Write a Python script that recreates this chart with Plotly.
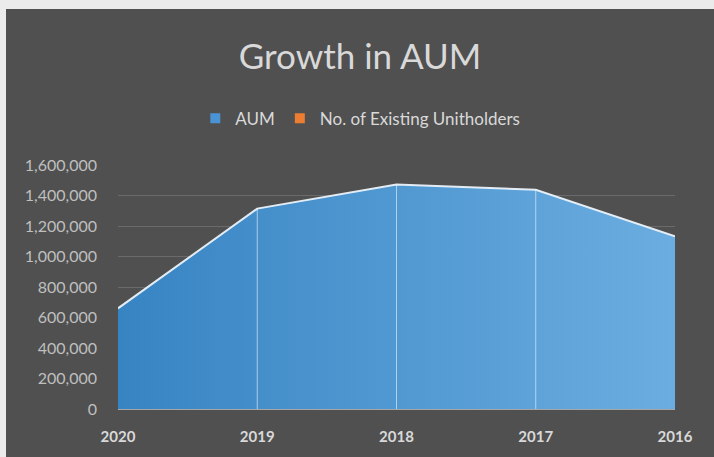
import plotly.graph_objects as go

years = ["2020", "2019", "2018", "2017", "2016"]
aum = [660000, 1314000, 1472000, 1437000, 1133000]
series_names = ["AUM", "No. of Existing Unitholders"]
y_ticks = [0, 200000, 400000, 600000, 800000, 1000000, 1200000, 1400000, 1600000]

BG = "#505050"
TXT = "#d9d9d9"

fig = go.Figure()

fig.add_trace(go.Scatter(
    x=years, y=aum, mode="lines", fill="tozeroy",
    line=dict(color="rgba(235,242,250,0.95)", width=2),
    fillgradient=dict(type="horizontal",
                      colorscale=[[0, "#3784c3"], [1, "#6badE0"]]),
    showlegend=False, hoverinfo="x+y",
))

# drop lines at interior categories
for yr, v in zip(years[1:-1], aum[1:-1]):
    fig.add_trace(go.Scatter(
        x=[yr, yr], y=[0, v], mode="lines",
        line=dict(color="rgba(255,255,255,0.55)", width=1),
        showlegend=False, hoverinfo="skip",
    ))

# legend entries
for name, col in zip(series_names, ["#4a93d4", "#ed7d31"]):
    fig.add_trace(go.Scatter(
        x=[None], y=[None], mode="markers", name=name,
        marker=dict(symbol="square", size=10, color=col),
    ))

W, H = 708, 448
L, R, T, B = 112, 39, 156, 44
pw, ph = W - L - R, H - T - B

fig.update_layout(
    width=W, height=H,
    margin=dict(l=L, r=R, t=T, b=B),
    paper_bgcolor=BG,
    plot_bgcolor="rgba(0,0,0,0)",
    font=dict(family="Lato, Open Sans, sans-serif", color=TXT),
    title=dict(text="Growth in AUM", x=0.5, xanchor="center",
               y=1 - 48 / H, yanchor="middle",
               font=dict(size=35, color=TXT)),
    legend=dict(orientation="h", x=0.435, xanchor="center",
                y=(H - B - 109) / ph, yanchor="middle",
                font=dict(size=17, color=TXT), bgcolor="rgba(0,0,0,0)",
                itemclick=False),
    xaxis=dict(type="category", range=[0, len(years) - 1],
               showgrid=False, showline=True, linecolor="#a6a6a6", linewidth=1,
               tickfont=dict(size=15, color=TXT, weight="bold"),
               ticks="", ticklabelstandoff=14, zeroline=False),
    yaxis=dict(range=[0, 1600000], tickvals=y_ticks, tickformat=",d",
               showgrid=True, gridcolor="#6a6a6a", gridwidth=1,
               zeroline=False, showline=False,
               tickfont=dict(size=16, color="#bfbfbf"),
               ticks="", ticklabelstandoff=20),
)

fig.write_html(
    "out.html",
    post_script=("document.documentElement.style.overflow='hidden';"
                 "document.body.style.margin='9px 0 0 6px';"
                 "document.body.style.overflow='hidden';"
                 "document.body.style.background='#ebebeb';"),
)
